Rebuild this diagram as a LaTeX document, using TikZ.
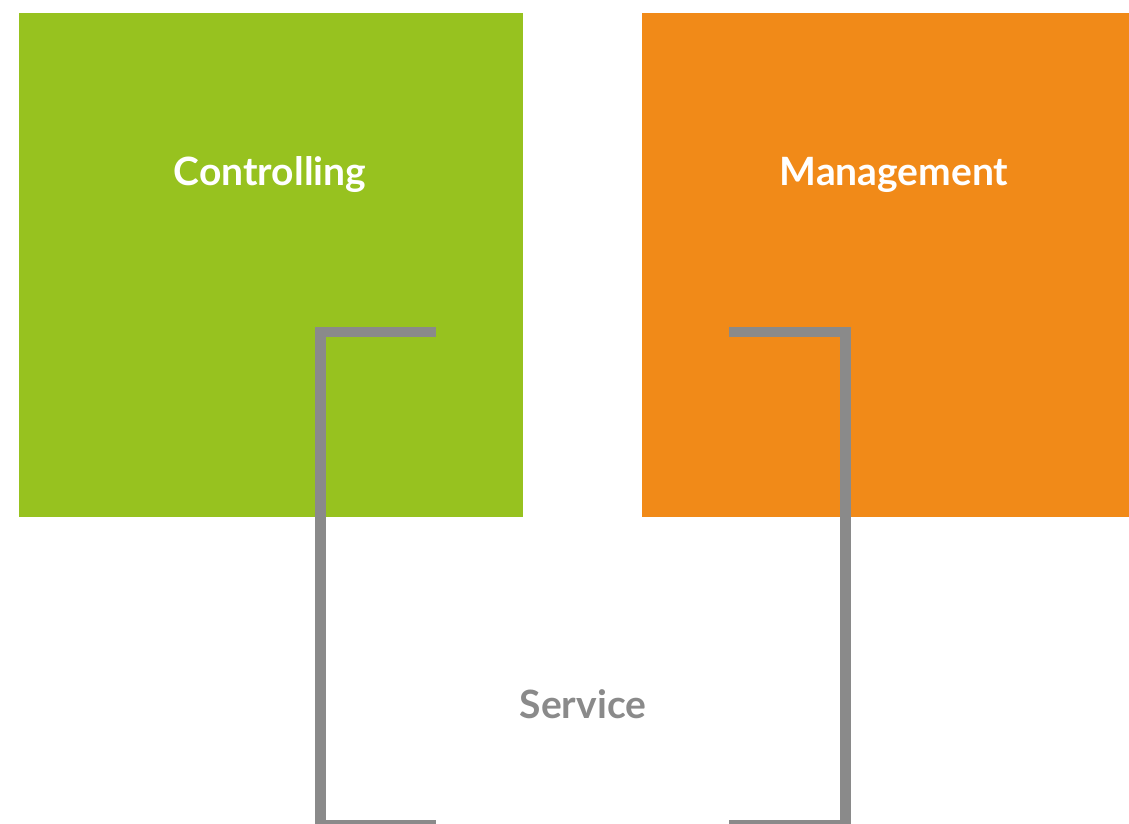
\documentclass[tikz,border=0pt]{standalone}
\usepackage{fontspec}
\setmainfont{Lato}
\definecolor{cgreen}{HTML}{97C21F}
\definecolor{corange}{HTML}{F18A18}
\definecolor{cgray}{HTML}{8A8A8A}
\begin{document}
\begin{tikzpicture}[x=1pt,y=-1pt,
  box/.style={draw=none,minimum width=504pt,minimum height=504pt,inner sep=0pt,outer sep=0pt},
  title/.style={text=white,font=\bfseries\fontsize{39}{43}\selectfont,inner sep=0pt},
  bracket/.style={draw=cgray,line width=10.5pt,line cap=butt,line join=miter}]
\useasboundingbox (0,0) rectangle (1129,824);
\clip (0,0) rectangle (1129,824);
\node[box,fill=cgreen,anchor=north west] (ctrl) at (19,13) {};
\node[box,fill=corange,anchor=north west] (mgmt) at (642,13) {};
\node[title] (ctrlt) at (270,175) {Controlling};
\node[title] (mgmtt) at (894,175) {Management};
\node[text=cgray,font=\bfseries\fontsize{39}{43}\selectfont,inner sep=0pt] (serv) at (583,704) {Service};
\coordinate (l1) at (436,332);
\coordinate (l2) at (320.5,332);
\coordinate (l3) at (320.5,825);
\coordinate (l4) at (436,825);
\coordinate (r1) at (729,332);
\coordinate (r2) at (845.5,332);
\coordinate (r3) at (845.5,825);
\coordinate (r4) at (729,825);
\draw[bracket] (l1) -- (l2) -- (l3) -- (l4);
\draw[bracket] (r1) -- (r2) -- (r3) -- (r4);
\end{tikzpicture}
\end{document}
